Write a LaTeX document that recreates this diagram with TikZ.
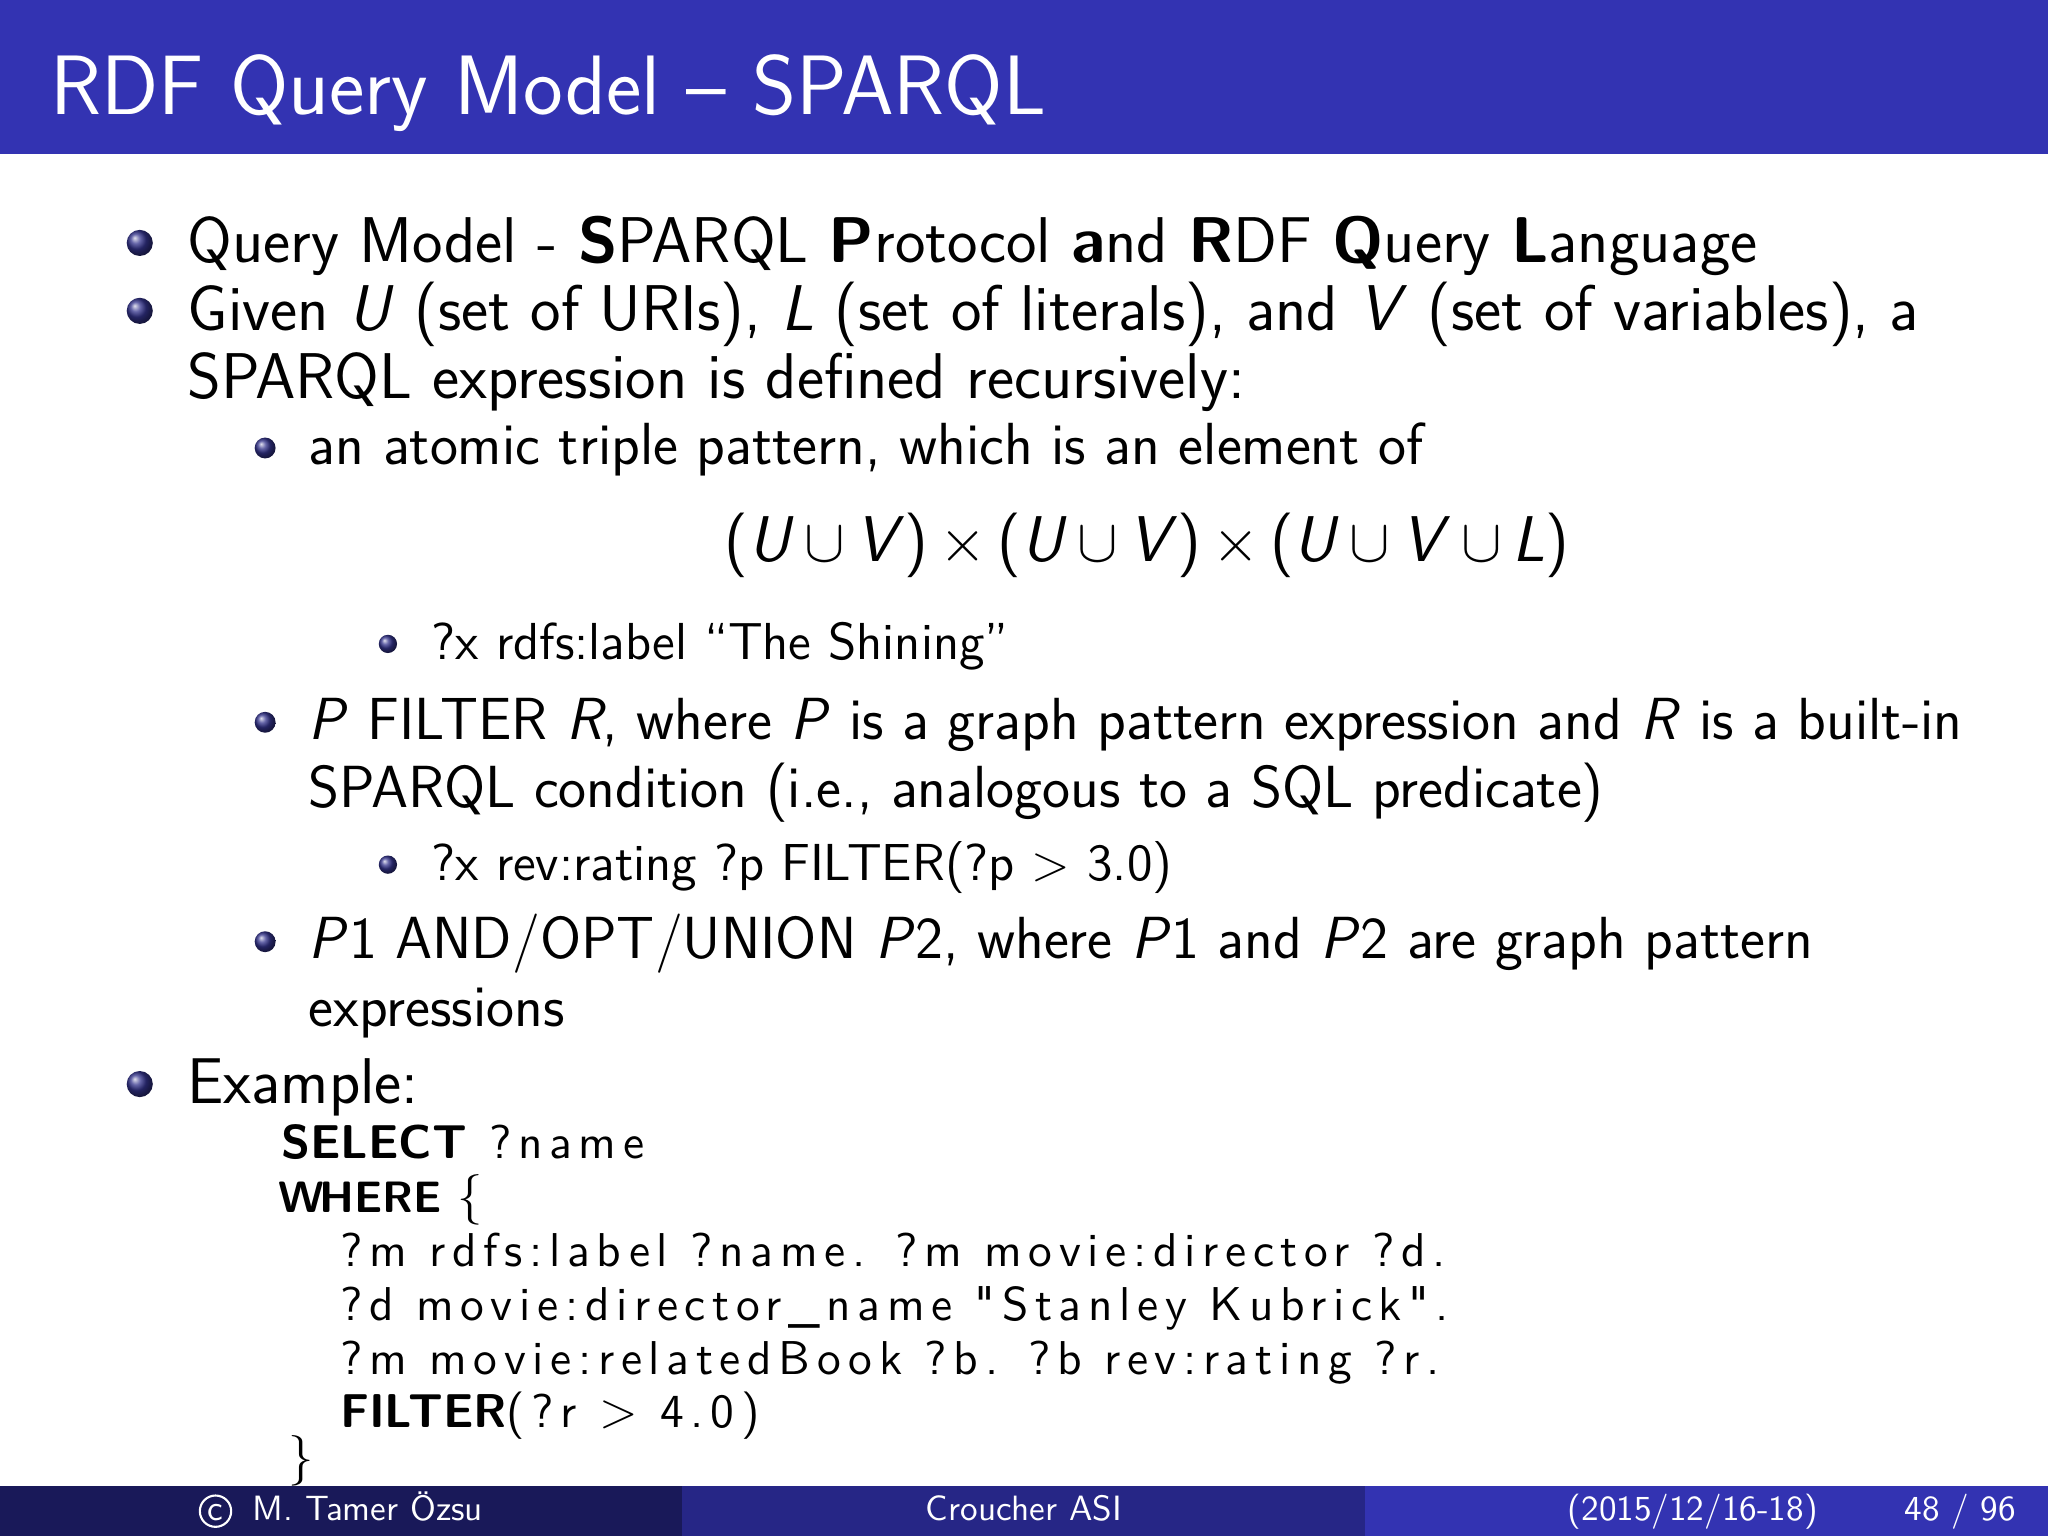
\documentclass[tikz,border=0pt]{standalone}
\usepackage{fontspec}
\usepackage{amssymb}
\usetikzlibrary{shadings}
\newfontfamily\codefont{lmsans10-regular.otf}[LetterSpace=14,BoldFont=lmsans10-bold.otf]
\definecolor{bbar}{RGB}{51,51,178}
\definecolor{fdark}{RGB}{25,25,89}
\definecolor{fmid}{RGB}{38,38,134}
\definecolor{ballc}{RGB}{51,51,140}
\newcommand{\vi}[1]{\textit{#1}}
\tikzset{
 txt/.style={anchor=base west,inner sep=0pt,font=\sffamily\fontsize{18.4}{20}\selectfont},
 subtxt/.style={txt,font=\sffamily\fontsize{16.9}{18}\selectfont},
 ssubtxt/.style={txt,font=\sffamily\fontsize{14.8}{16}\selectfont},
 code/.style={txt,font=\codefont\fontsize{13.5}{15}\selectfont},
 kw/.style={txt,font=\sffamily\bfseries\fontsize{13.5}{15}\selectfont},
 foot/.style={anchor=base,inner sep=0pt,text=white,font=\sffamily\fontsize{10}{11}\selectfont},
}
\newcommand{\myball}[3]{\shade[ball color=ballc] (#1,#2) circle (#3);}
\begin{document}
\begin{tikzpicture}[x=0.01306cm,y=-0.01306cm]
\useasboundingbox (0,0) rectangle (1568,1176);
\fill[white] (0,0) rectangle (1568,1176);
\fill[bbar] (0,0) rectangle (1568,118);
\node[txt,text=white,font=\sffamily\fontsize{24}{28}\selectfont] (title) at (38,88) {RDF Query Model -- SPARQL};
% bullets
\myball{107}{186}{10}\myball{107}{238}{10}\myball{107}{830}{10}
\myball{203}{343}{8}\myball{203}{553}{8}\myball{203}{721}{8}
\myball{297}{493}{7}\myball{297}{662}{7}
\node[txt] (l1) at (143,201) {Query Model - \textbf{S}PARQL \textbf{P}rotocol \textbf{a}nd \textbf{R}DF \textbf{Q}uery \textbf{L}anguage};
\node[txt] (l2) at (143,253) {Given \vi{U} (set of URIs), \vi{L} (set of literals), and \vi{V} (set of variables), a};
\node[txt] (l3) at (143,305) {SPARQL expression is defined recursively:};
\node[subtxt] (s1) at (236,356) {an atomic triple pattern, which is an element of};
\node[anchor=base,inner sep=0pt,font=\sffamily\fontsize{18.4}{20}\selectfont] (m) at (878,430) {(\vi{U}\,$\cup$\,\vi{V})\,$\times$\,(\vi{U}\,$\cup$\,\vi{V})\,$\times$\,(\vi{U}\,$\cup$\,\vi{V}\,$\cup$\,\vi{L})};
\node[ssubtxt] (ss1) at (330,505) {?x rdfs:label ``The Shining''};
\node[subtxt] (s2) at (236,566) {\vi{P} FILTER \vi{R}, where \vi{P} is a graph pattern expression and \vi{R} is a built-in};
\node[subtxt] (s2b) at (236,618) {SPARQL condition (i.e., analogous to a SQL predicate)};
\node[ssubtxt] (ss2) at (330,674) {?x rev:rating ?p FILTER(?p $>$ 3.0)};
\node[subtxt] (s3) at (236,734) {\vi{P}1 AND/OPT/UNION \vi{P}2, where \vi{P}1 and \vi{P}2 are graph pattern};
\node[subtxt] (s3b) at (236,786) {expressions};
\node[txt] (ex) at (143,845) {Example:};
\node[kw] (sel) at (215,887) {SELECT};
\node[code] (selb) at (374,887) {?name};
\node[kw,font=\sffamily\bfseries\fontsize{12.5}{14}\selectfont] (wh) at (213,928) {W\kern-1.5pt HERE};
\node[txt,font=\fontsize{15}{16}\selectfont] (br) at (350,928) {$\{$};
\node[code] (c1) at (260,970) {?m rdfs:label ?name. ?m movie:director ?d.};
\node[code] (c2) at (260,1011) {?d movie:director\_name "Stanley Kubrick".};
\node[code] (c3) at (260,1052) {?m movie:relatedBook ?b. ?b rev:rating ?r.};
\node[code] (c4) at (260,1093) {{\sffamily\bfseries FILTER}(?r $>$ 4.0)};
\node[txt,font=\fontsize{15}{16}\selectfont] (br2) at (220,1128) {$\}$};
% footer
\fill[fdark] (0,1138) rectangle (522,1176);
\fill[fmid] (522,1138) rectangle (1045,1176);
\fill[bbar] (1045,1138) rectangle (1568,1176);
\draw[white,line width=0.6pt] (165,1157) circle (12);
\node[foot] (cc) at (165,1164) {c};
\node[foot,anchor=base west] (f1) at (193,1164) {M. Tamer Özsu};
\node[foot] (f2) at (784,1164) {Croucher ASI};
\node[foot] (f3) at (1296,1164) {(2015/12/16-18)};
\node[foot] (f4) at (1501,1164) {48 / 96};
\end{tikzpicture}
\end{document}
